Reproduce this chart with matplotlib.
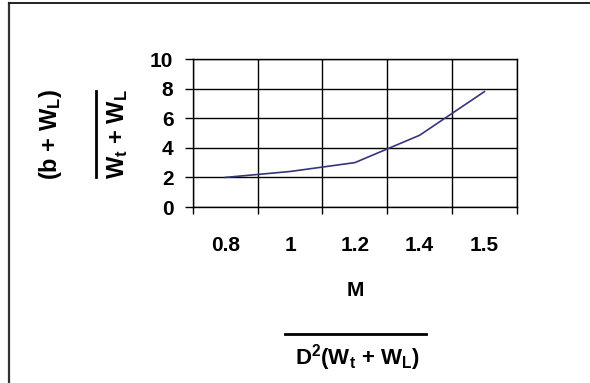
import matplotlib
matplotlib.use('Agg')
import matplotlib.pyplot as plt
import numpy as np
from matplotlib.lines import Line2D
from matplotlib.ticker import FixedLocator, NullFormatter, FixedFormatter

plt.rcParams['font.family'] = 'Liberation Sans'
plt.rcParams['font.weight'] = 'bold'
plt.rcParams['mathtext.fontset'] = 'custom'
plt.rcParams['mathtext.rm'] = 'Liberation Sans:bold'
plt.rcParams['mathtext.it'] = 'Liberation Sans:bold'
plt.rcParams['mathtext.bf'] = 'Liberation Sans:bold'

# Category axis values and ratio curve
categories = ['0.8', '1', '1.2', '1.4', '1.5']
ratio = [2.0, 2.4, 3.0, 4.85, 7.8]
y_ticks = [0, 2, 4, 6, 8, 10]

fs = 15      # tick labels and horizontal titles
fs_v = 17    # rotated y title

fig = plt.figure(figsize=(5.9, 3.83), dpi=100)
ax = fig.add_axes([0.327, 0.4595, 0.549, 0.3864])

pos = np.arange(len(categories))
ax.plot(pos, ratio, color='#35357a', linewidth=1.2)

ax.set_xlim(-0.5, len(categories) - 0.5)
ax.set_ylim(0, 10)

# gridlines on category boundaries, labels in the middle of each category
ax.xaxis.set_major_locator(FixedLocator(np.arange(len(categories) + 1) - 0.5))
ax.xaxis.set_major_formatter(NullFormatter())
ax.xaxis.set_minor_locator(FixedLocator(pos))
ax.xaxis.set_minor_formatter(FixedFormatter(categories))
ax.tick_params(axis='x', which='major', direction='out', length=5, width=1, color='black')
ax.tick_params(axis='x', which='minor', length=0, pad=21, labelsize=fs)

ax.set_yticks(y_ticks)
ax.tick_params(axis='y', which='major', direction='out', length=6, width=1, pad=8, labelsize=fs)

ax.grid(True, which='major', color='black', linewidth=1)
for s in ax.spines.values():
    s.set_linewidth(1)
    s.set_color('black')

# axis titles written as fractions
fig.text(0.602, 1 - 291 / 383, 'M', ha='center', va='center', fontsize=fs)
fig.add_artist(Line2D([285 / 590, 426 / 590], [1 - 334 / 383, 1 - 334 / 383], color='black', linewidth=2))
fig.text(0.605, 1 - 358 / 383, r'D$^{2}$(W$_{t}$ + W$_{L}$)', ha='center', va='center', fontsize=16)

fig.text(50 / 590, 1 - 134 / 383, r'(b + W$_{L}$)', ha='center', va='center', rotation=90, fontsize=fs_v)
fig.add_artist(Line2D([96 / 590, 96 / 590], [1 - 91 / 383, 1 - 177 / 383], color='black', linewidth=2))
fig.text(118 / 590, 1 - 134 / 383, r'W$_{t}$ + W$_{L}$', ha='center', va='center', rotation=90, fontsize=fs_v)

# page frame
fig.add_artist(Line2D([9 / 590, 9 / 590], [0, 1 - 3 / 383], color='#333333', linewidth=1.6))
fig.add_artist(Line2D([9 / 590, 1], [1 - 3 / 383, 1 - 3 / 383], color='#222222', linewidth=1.4))

fig.savefig('out.png', dpi=100)
